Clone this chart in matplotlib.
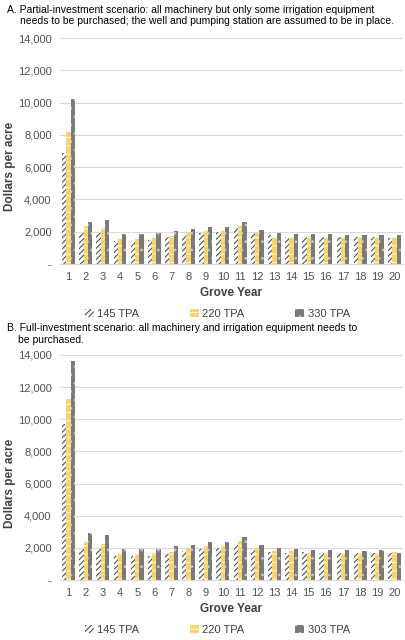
import numpy as np
import matplotlib.pyplot as plt

years = list(range(1, 21))

# panel A - partial investment
a_145 = [6900, 1950, 1900, 1450, 1450, 1500, 1650, 1800, 1900, 2000,
         2250, 1900, 1800, 1700, 1700, 1700, 1650, 1700, 1650, 1600]
a_220 = [8200, 2350, 2200, 1550, 1550, 1600, 1750, 1950, 2050, 2050,
         2350, 1950, 1700, 1650, 1750, 1600, 1700, 1700, 1700, 1700]
a_330 = [10250, 2600, 2750, 1850, 1850, 1900, 2050, 2150, 2300, 2300,
         2600, 2100, 1950, 1850, 1850, 1850, 1800, 1800, 1800, 1800]

# panel B - full investment
b_145 = [9700, 1950, 1950, 1500, 1500, 1500, 1600, 1800, 1900, 2000,
         2250, 1900, 1750, 1700, 1750, 1700, 1700, 1700, 1650, 1700]
b_220 = [11250, 2350, 2250, 1700, 1600, 1650, 1750, 2000, 2100, 2150,
         2400, 2000, 1800, 1800, 1700, 1700, 1700, 1700, 1700, 1750]
b_303 = [13600, 2900, 2800, 1900, 1900, 1900, 2100, 2200, 2350, 2350,
         2650, 2150, 2000, 1900, 1850, 1850, 1850, 1800, 1850, 1700]

title_a = ["A. Partial-investment scenario: all machinery but only some irrigation equipment",
           "needs to be purchased; the well and pumping station are assumed to be in place."]
title_b = ["B. Full-investment scenario: all machinery and irrigation equipment needs to",
           "be purchased."]

plt.rcParams['font.family'] = ['Liberation Sans', 'DejaVu Sans']
plt.rcParams['hatch.linewidth'] = 0.8

fig = plt.figure(figsize=(4.06, 6.4), dpi=100)
W, H = 406, 640


def draw(ax, s1, s2, s3, labels):
    x = np.arange(len(years))
    w = 0.25
    b1 = ax.bar(x - w, s1, w, color='white', edgecolor='#505050', hatch='//////', linewidth=0)
    b2 = ax.bar(x, s2, w, color='#F7D36B', edgecolor='#FFF4D6', hatch='--', linewidth=0)
    b3 = ax.bar(x + w, s3, w, color='#7A7A7A', edgecolor='#C4C4C4', hatch='..', linewidth=0)
    ax.set_xlim(-0.5, len(years) - 0.5)
    ax.set_ylim(0, 14000)
    ax.set_yticks(range(0, 14001, 2000))
    ax.set_yticklabels(['-'] + [f'{v:,}' for v in range(2000, 14001, 2000)])
    ax.set_xticks(x)
    ax.set_xticklabels([str(y) for y in years])
    ax.tick_params(length=0, labelsize=8, colors='#505050', pad=6)
    ax.grid(axis='y', color='#DADADA', linewidth=0.8)
    ax.set_axisbelow(True)
    for s in ['top', 'right', 'left']:
        ax.spines[s].set_visible(False)
    ax.spines['bottom'].set_color('#D9D9D9')
    ax.set_xlabel('Grove Year', fontsize=8.5, fontweight='bold', color='#404040', labelpad=3)
    return (b1, b2, b3), labels


ax_a = fig.add_axes([60 / W, 1 - 264 / H, 343 / W, 226 / H])
h, l = draw(ax_a, a_145, a_220, a_330, ['145 TPA', '220 TPA', '330 TPA'])
fig.legend(h, l, loc='center', bbox_to_anchor=(0.535, 1 - 314 / H), ncol=3, frameon=False,
           fontsize=8, columnspacing=4.6, handlelength=0.8, handleheight=0.8, handletextpad=0.3,
           labelcolor='#404040')

ax_b = fig.add_axes([60 / W, 1 - 580 / H, 343 / W, 225 / H])
h, l = draw(ax_b, b_145, b_220, b_303, ['145 TPA', '220 TPA', '303 TPA'])
fig.legend(h, l, loc='center', bbox_to_anchor=(0.535, 1 - 630 / H), ncol=3, frameon=False,
           fontsize=8, columnspacing=4.6, handlelength=0.8, handleheight=0.8, handletextpad=0.3,
           labelcolor='#404040')

fig.text(7 / W, 1 - 10 / H, title_a[0], fontsize=7.5, va='center')
fig.text(20 / W, 1 - 21 / H, title_a[1], fontsize=7.5, va='center')
fig.text(7 / W, 1 - 328 / H, title_b[0], fontsize=7.5, va='center')
fig.text(18 / W, 1 - 340 / H, title_b[1], fontsize=7.5, va='center')

fig.text(10 / W, 1 - 166 / H, 'Dollars per acre', rotation=90, fontsize=8.5,
         fontweight='bold', color='#404040', va='center', ha='center')
fig.text(10 / W, 1 - 483 / H, 'Dollars per acre', rotation=90, fontsize=8.5,
         fontweight='bold', color='#404040', va='center', ha='center')

fig.savefig('out.png', dpi=100)
